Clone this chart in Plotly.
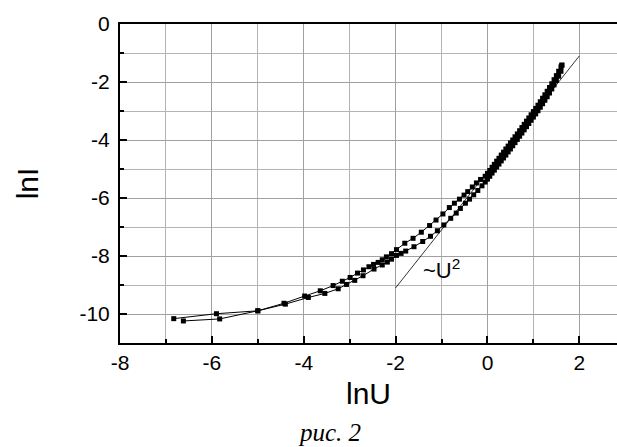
import plotly.graph_objects as go

# Branch 1 (upper branch) lnU, lnI
lnU_up = [-6.83, -5.90, -5.00, -4.43, -3.98, -3.64, -3.36, -3.16, -2.99, -2.83, -2.70, -2.58,
          -2.48, -2.38, -2.29, -2.20, -2.09, -1.98, -1.80, -1.62, -1.44, -1.26, -1.12, -0.97,
          -0.83, -0.72, -0.61, -0.51, -0.43, -0.33, -0.24, -0.15, -0.05, 0.00, 0.05, 0.10,
          0.15, 0.20, 0.25, 0.30, 0.35, 0.40, 0.45, 0.50, 0.55, 0.60, 0.65, 0.70, 0.75, 0.80,
          0.85, 0.90, 0.95, 1.00, 1.05, 1.10, 1.15, 1.20, 1.25, 1.30, 1.35, 1.40, 1.45, 1.50,
          1.55, 1.60, 1.62]
lnI_up = [-10.16, -9.99, -9.89, -9.63, -9.38, -9.20, -9.02, -8.87, -8.74, -8.59, -8.48, -8.37,
          -8.29, -8.22, -8.13, -8.03, -7.92, -7.78, -7.56, -7.39, -7.18, -6.95, -6.76, -6.55,
          -6.33, -6.18, -6.04, -5.90, -5.78, -5.62, -5.48, -5.36, -5.25, -5.15, -5.05, -4.94,
          -4.84, -4.73, -4.63, -4.52, -4.42, -4.31, -4.21, -4.10, -4.00, -3.89, -3.79, -3.68,
          -3.57, -3.46, -3.35, -3.24, -3.13, -3.02, -2.91, -2.80, -2.68, -2.56, -2.44, -2.32,
          -2.19, -2.06, -1.92, -1.78, -1.63, -1.48, -1.42]

# Branch 2 (lower branch) lnU, lnI
lnU_lo = [-6.62, -5.83, -5.00, -4.40, -3.90, -3.54, -3.25, -3.07, -2.89, -2.71, -2.47, -2.29,
          -2.18, -2.09, -1.98, -1.88, -1.78, -1.60, -1.41, -1.24, -1.09, -0.95, -0.80, -0.68,
          -0.59, -0.48, -0.39, -0.30, -0.21, -0.12, -0.05, 0.00, 0.05, 0.10, 0.15, 0.20, 0.25,
          0.30, 0.35, 0.40, 0.45, 0.50, 0.55, 0.60, 0.65, 0.70, 0.75, 0.80, 0.85, 0.90, 0.95,
          1.00, 1.05, 1.10, 1.15, 1.20, 1.25, 1.30, 1.35, 1.40, 1.45, 1.50, 1.55, 1.60, 1.62]
lnI_lo = [-10.24, -10.17, -9.89, -9.66, -9.43, -9.29, -9.13, -8.98, -8.84, -8.68, -8.45, -8.31,
          -8.21, -8.11, -7.98, -7.91, -7.83, -7.68, -7.50, -7.32, -7.13, -6.93, -6.70, -6.52,
          -6.36, -6.18, -6.04, -5.89, -5.74, -5.58, -5.45, -5.35, -5.25, -5.14, -5.04, -4.93,
          -4.83, -4.72, -4.62, -4.52, -4.41, -4.31, -4.20, -4.09, -3.98, -3.87, -3.76, -3.65,
          -3.54, -3.43, -3.32, -3.21, -3.10, -2.99, -2.87, -2.75, -2.63, -2.51, -2.38, -2.24,
          -2.10, -1.95, -1.80, -1.63, -1.42]

# ~U^2 reference line
fit_x = [-2.0, 2.0]
fit_y = [-9.1, -1.1]

x_ticks = [-8, -6, -4, -2, 0, 2]
y_ticks = [0, -2, -4, -6, -8, -10]

fig = go.Figure()
for xs, ys in [(lnU_up, lnI_up), (lnU_lo, lnI_lo)]:
    fig.add_trace(go.Scatter(
        x=xs, y=ys, mode="lines+markers",
        line=dict(color="black", width=1),
        marker=dict(symbol="square", size=5, color="black"),
        showlegend=False, hoverinfo="skip"))

fig.add_trace(go.Scatter(x=fit_x, y=fit_y, mode="lines",
                         line=dict(color="black", width=0.8),
                         showlegend=False, hoverinfo="skip"))

fig.add_annotation(x=-1.45, y=-8.45, xref="x", yref="y", text="~U<sup>2</sup>",
                   showarrow=False, xanchor="left", yanchor="middle",
                   font=dict(family="Liberation Sans, Arial", size=22, color="black"))

fig.add_annotation(x=0.4225, y=-0.282, xref="paper", yref="paper", text="рис. 2",
                   showarrow=False, xanchor="center", yanchor="middle",
                   font=dict(family="Liberation Serif, Times New Roman", size=25,
                             color="black", style="italic"))

axis_font = dict(family="Liberation Sans, Arial", size=21, color="black")
title_font = dict(family="Liberation Sans, Arial", size=30, color="black")

fig.update_layout(
    width=617, height=447,
    margin=dict(l=120, r=0, t=24, b=104),
    paper_bgcolor="white", plot_bgcolor="white",
    xaxis=dict(range=[-8, 2.82], tickvals=x_ticks, ticktext=[str(v) for v in x_ticks],
               ticks="inside", ticklen=7, tickwidth=1.5, tickcolor="black",
               showline=True, linecolor="black", linewidth=2, mirror=True,
               showgrid=True, gridcolor="#a0a0a0", gridwidth=1, zeroline=False,
               minor=dict(dtick=1, tick0=0, ticks="inside", ticklen=4, tickcolor="black",
                          showgrid=True, gridcolor="#b4b4b4", gridwidth=1),
               tickfont=axis_font,
               title=dict(text="lnU", font=title_font, standoff=10)),
    yaxis=dict(range=[-11, 0], tickvals=y_ticks, ticktext=[str(v) for v in y_ticks],
               ticks="inside", ticklen=7, tickwidth=1.5, tickcolor="black",
               showline=True, linecolor="black", linewidth=2,
               showgrid=True, gridcolor="#a0a0a0", gridwidth=1, zeroline=False,
               minor=dict(dtick=1, tick0=0, ticks="inside", ticklen=4, tickcolor="black",
                          showgrid=True, gridcolor="#b4b4b4", gridwidth=1),
               tickfont=axis_font, ticklabelstandoff=4,
               title=dict(text="lnI", font=title_font, standoff=32)),
)

fig.write_html("out.html")
